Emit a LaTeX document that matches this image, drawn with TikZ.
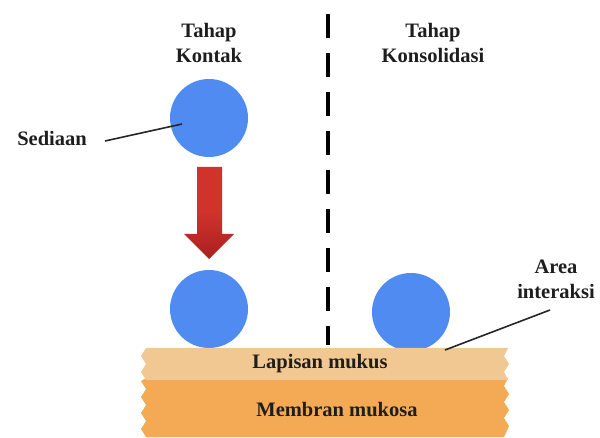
\documentclass[tikz,border=0pt]{standalone}
\usepackage{fontspec}
\setmainfont{Liberation Serif}
\definecolor{ball}{HTML}{4F8BF0}
\definecolor{mucus}{HTML}{F1C792}
\definecolor{membrane}{HTML}{F4AA55}
\definecolor{arrowred}{HTML}{D0322C}
\definecolor{arrowdark}{HTML}{A8201E}
\definecolor{ink}{HTML}{1E1E1E}
\begin{document}
\begin{tikzpicture}[x=1pt,y=-1pt,
  lbl/.style={font=\bfseries\fontsize{20.5}{25}\selectfont, text=ink, align=center, inner sep=0pt},
  particle/.style={circle, fill=ball, minimum size=78pt, inner sep=0pt},
  pointer/.style={draw=black!85, line width=1.6pt},
  divider/.style={draw=black, line width=4.5pt, dash pattern=on 24pt off 15pt}]
\useasboundingbox (0,0) rectangle (600,438);

% particles
\node[particle] (top) at (209,118) {};
\node[particle] (down) at (209,309) {};
\node[particle] (right) at (411,312) {};

% mucosa layers with torn edges
\fill[membrane] (146,378)
  -- (508,378) -- (504,386) -- (509,394) -- (504,402) -- (509,410) -- (504,418) -- (509,426) -- (504,437)
  -- (146,437) -- (141,429) -- (146,421) -- (141,413) -- (146,405) -- (141,397) -- (146,389) -- (141,381) -- cycle;
\fill[mucus] (146,348)
  -- (508,348) -- (504,356) -- (509,364) -- (504,372) -- (508,380)
  -- (146,380) -- (141,372) -- (146,364) -- (141,356) -- cycle;
\node[lbl] (lapisan) at (320,364) {Lapisan mukus};
\node[lbl] (membran) at (337,410) {Membran mukosa};

% divider between the two stages
\coordinate (dtop) at (328,14);
\coordinate (dbot) at (328,345);
\draw[divider] (dtop) -- (dbot);

% stage titles
\node[lbl] (kontak) at (209,43) {Tahap\\Kontak};
\node[lbl] (konsol) at (433,43) {Tahap\\Konsolidasi};

% movement arrow
\shade[top color=arrowred, bottom color=arrowdark, middle color=arrowred]
  (197,167) -- (222,167) -- (222,234) -- (234,234) -- (209,259) -- (184,234) -- (197,234) -- cycle;

% labels with pointers
\node[lbl] (sediaan) at (52,138) {Sediaan};
\coordinate (sedtail) at (105,141);
\coordinate (sedtip) at (182,124);
\draw[pointer] (sedtail) -- (sedtip);

\node[lbl] (area) at (556,279) {Area\\interaksi};
\coordinate (areatail) at (550,310);
\coordinate (areatip) at (445,350);
\draw[pointer] (areatail) -- (areatip);
\end{tikzpicture}
\end{document}
